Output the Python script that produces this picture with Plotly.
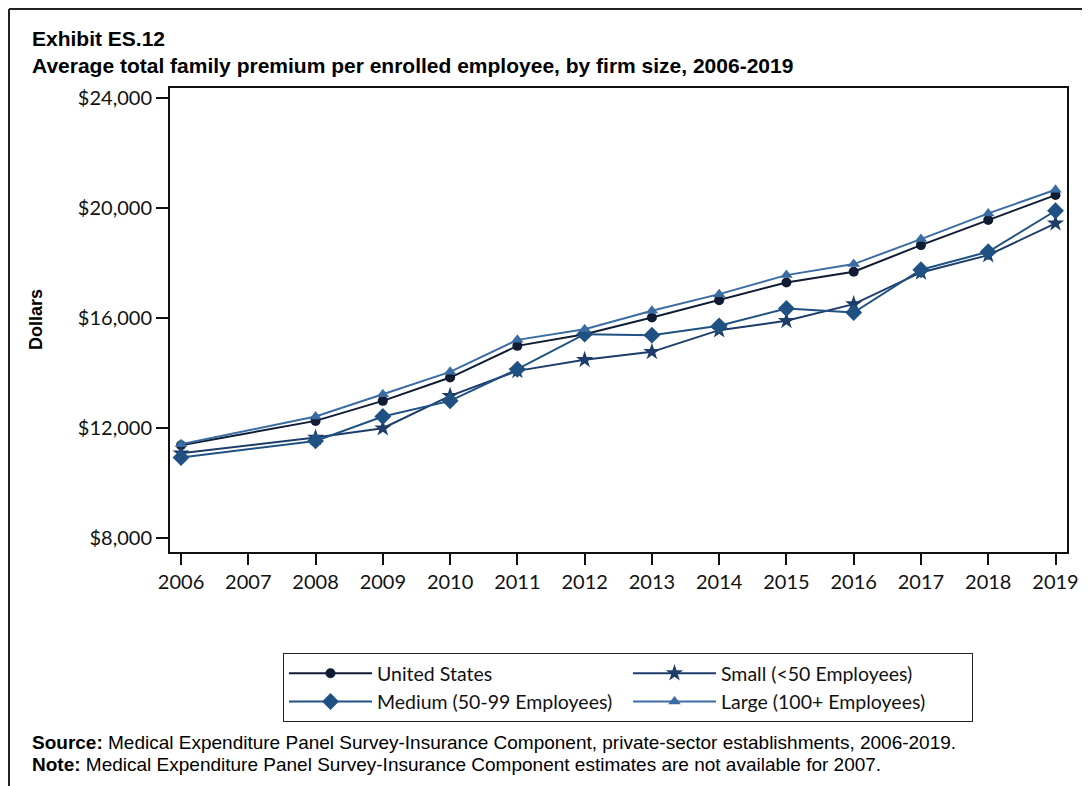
import plotly.graph_objects as go

years = [2006, 2008, 2009, 2010, 2011, 2012, 2013, 2014, 2015, 2016, 2017, 2018, 2019]
united_states = [11381, 12267, 12994, 13842, 14994, 15418, 16024, 16655, 17297, 17685, 18655, 19564, 20473]
small = [11091, 11661, 12000, 13176, 14085, 14485, 14776, 15564, 15903, 16509, 17661, 18291, 19444]
medium = [10933, 11539, 12424, 12994, 14145, 15418, 15382, 15721, 16352, 16206, 17758, 18412, 19903]
large = [11418, 12424, 13236, 14048, 15212, 15600, 16267, 16873, 17564, 17964, 18873, 19806, 20666]

series_names = ["United States", "Small (<50 Employees)", "Medium (50-99 Employees)", "Large (100+ Employees)"]
x_ticks = list(range(2006, 2020))
x_ticktext = [str(y) for y in x_ticks]
y_ticks = [8000, 12000, 16000, 20000, 24000]
y_ticktext = ["$8,000", "$12,000", "$16,000", "$20,000", "$24,000"]

colors = ["#0f1c33", "#1d3c69", "#1f5282", "#3a6ca3"]
symbols = ["circle", "star", "diamond", "triangle-up"]
msizes = [10, 13, 13, 11]

fig = go.Figure()
for name, vals, c, s, ms in zip(series_names, [united_states, small, medium, large], colors, symbols, msizes):
    fig.add_trace(go.Scatter(
        x=years, y=vals, name=name, mode="lines+markers",
        line=dict(color=c, width=2),
        marker=dict(symbol=s, size=ms, color=c, line=dict(width=0)),
    ))

# page has an 8px body margin: figure coordinates = reference pixels - 8
OFF = 8
W, H = 1090, 786
L = 170 - OFF
T = 88 - OFF
R = W - (1067 - OFF)
B = H - (552 - OFF)
pw, ph = W - L - R, H - T - B

def px_x(px):
    return (px - OFF - L) / pw

def px_y(py):
    return (H - B - (py - OFF)) / ph

tick_font = dict(family="Lato, Carlito, sans-serif", size=20, color="#111111")

fig.update_layout(
    width=W, height=H,
    margin=dict(l=L, r=R, t=T, b=B),
    paper_bgcolor="white", plot_bgcolor="white",
    showlegend=True,
    legend=dict(
        orientation="h",
        x=px_x(283), xanchor="left",
        y=px_y(653), yanchor="top",
        entrywidth=246, entrywidthmode="pixels",
        itemwidth=83,
        bordercolor="#222222", borderwidth=1,
        font=dict(family="Lato, Carlito, sans-serif", size=19.5, color="#111111"),
        tracegroupgap=0,
    ),
    xaxis=dict(
        range=[2005.836, 2019.171],
        tickmode="array", tickvals=x_ticks, ticktext=x_ticktext,
        ticks="outside", ticklen=11, tickwidth=2, tickcolor="#111111",
        showline=True, linecolor="#111111", linewidth=2, mirror=True,
        showgrid=False, zeroline=False,
        tickfont=tick_font,
    ),
    yaxis=dict(
        range=[7502, 24364],
        tickmode="array", tickvals=y_ticks, ticktext=y_ticktext,
        ticks="outside", ticklen=12, tickwidth=2, tickcolor="#111111",
        showline=True, linecolor="#111111", linewidth=2, mirror=True,
        showgrid=False, zeroline=False,
        tickfont=tick_font,
    ),
)

title_font = dict(family="Liberation Sans, Arial, sans-serif", size=21, color="#000000")
note_font = dict(family="Liberation Sans, Arial, sans-serif", size=19, color="#000000")
annotations = [
    dict(text="<b>Exhibit ES.12</b>", x=px_x(30), y=px_y(39), font=title_font),
    dict(text="<b>Average total family premium per enrolled employee, by firm size, 2006-2019</b>",
         x=px_x(30), y=px_y(65), font=title_font),
    dict(text="<b>Source:</b> Medical Expenditure Panel Survey-Insurance Component, private-sector establishments, 2006-2019.",
         x=px_x(30), y=px_y(742), font=note_font),
    dict(text="<b>Note:</b> Medical Expenditure Panel Survey-Insurance Component estimates are not available for 2007.",
         x=px_x(30), y=px_y(764), font=note_font),
]
for a in annotations:
    fig.add_annotation(xref="paper", yref="paper", xanchor="left", yanchor="middle",
                       showarrow=False, align="left", **a)

fig.add_annotation(xref="paper", yref="paper", x=px_x(36), y=px_y(320), text="<b>Dollars</b>",
                   textangle=-90, showarrow=False, xanchor="center", yanchor="middle",
                   font=dict(family="Liberation Sans, Arial, sans-serif", size=18, color="#000000"))

# outer frame (left and top edges)
fig.add_shape(type="line", xref="paper", yref="paper", x0=px_x(9), x1=px_x(9), y0=px_y(9), y1=px_y(800),
              line=dict(color="#222222", width=2))
fig.add_shape(type="line", xref="paper", yref="paper", x0=px_x(9), x1=px_x(1100), y0=px_y(9), y1=px_y(9),
              line=dict(color="#222222", width=2))

fig.write_html("out.html")
